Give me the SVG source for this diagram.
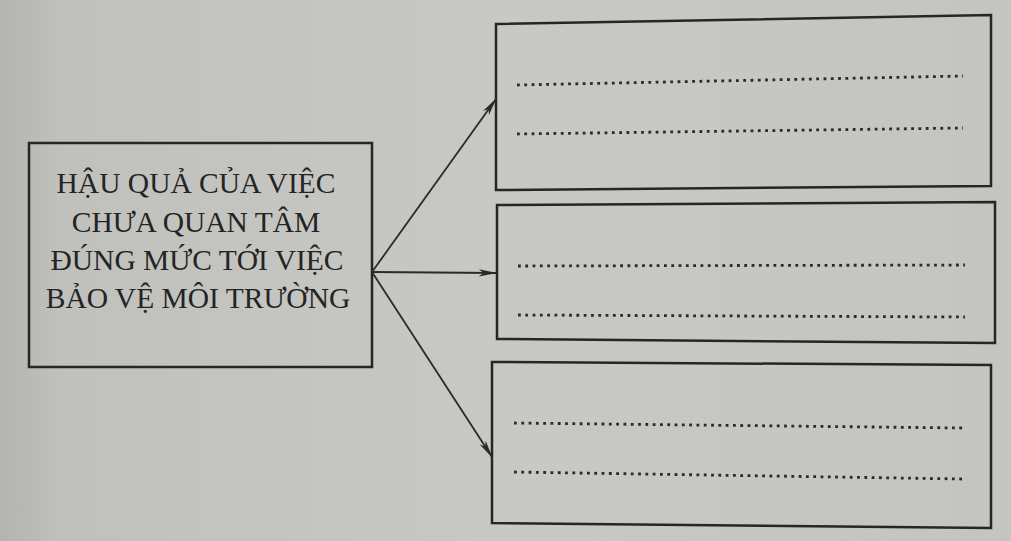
<svg xmlns="http://www.w3.org/2000/svg" width="1011" height="541" viewBox="0 0 1011 541">
  <defs>
    <linearGradient id="bg" x1="0" y1="0" x2="1" y2="0">
      <stop offset="0" stop-color="#b3b4b0"/>
      <stop offset="0.06" stop-color="#c0c1bd"/>
      <stop offset="0.5" stop-color="#c8c9c4"/>
      <stop offset="1" stop-color="#c4c5c0"/>
    </linearGradient>
    <marker id="arr" viewBox="0 0 20 10" refX="19" refY="5" markerWidth="18" markerHeight="9" markerUnits="userSpaceOnUse" orient="auto">
      <path d="M0,1 L20,5 L0,9 L5,5 Z" fill="#2a2a2a"/>
    </marker>
    <style>
      .box { fill: none; stroke: #262626; stroke-width: 2.5; stroke-linejoin: miter; }
      .dots { fill: none; stroke: #2a2a2a; stroke-width: 2.8; stroke-dasharray: 2.8 4.5; }
      .conn { fill: none; stroke: #2a2a2a; stroke-width: 1.8; marker-end: url(#arr); }
      .lbl { font-family: "Liberation Serif", "Times New Roman", serif; font-size: 29.5px; fill: #242424; text-anchor: middle; }
    </style>
  </defs>
  <rect x="0" y="0" width="1011" height="541" fill="url(#bg)"/>

  <g id="node-main">
    <path class="box" d="M29,143 L372,143 L372,367 L29,367 Z"/>
    <text class="lbl" x="196" y="193">HẬU QUẢ CỦA VIỆC</text>
    <text class="lbl" x="196" y="232">CHƯA QUAN TÂM</text>
    <text class="lbl" x="197" y="270">ĐÚNG MỨC TỚI VIỆC</text>
    <text class="lbl" x="198" y="308">BẢO VỆ MÔI TRƯỜNG</text>
  </g>

  <g id="node-top">
    <path class="box" d="M496,24 L991,15 L991,186 L496,190 Z"/>
    <path class="dots" d="M517,85 L963,76"/>
    <path class="dots" d="M517,134 L963,128"/>
  </g>

  <g id="node-middle">
    <path class="box" d="M497,205 L995,202 L995,343 L497,339 Z"/>
    <path class="dots" d="M518,266 L965,265"/>
    <path class="dots" d="M518,315 L965,317"/>
  </g>

  <g id="node-bottom">
    <path class="box" d="M492,362 L991,365 L991,528 L492,523 Z"/>
    <path class="dots" d="M514,423 L963,428"/>
    <path class="dots" d="M514,472 L963,479"/>
  </g>

  <g id="connectors">
    <path class="conn" d="M372,272 L496,99"/>
    <path class="conn" d="M372,272 L496,273"/>
    <path class="conn" d="M372,272 L492,457"/>
  </g>
</svg>
